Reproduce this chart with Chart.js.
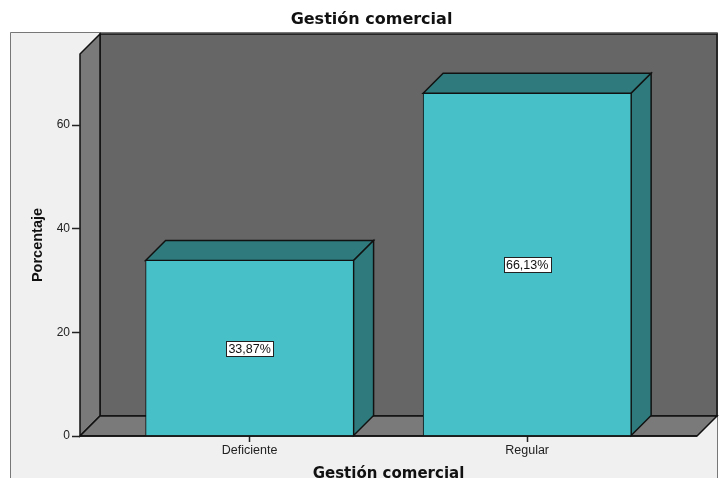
<!DOCTYPE html>
<html>
<head>
<meta charset="utf-8">
<title>Gestión comercial</title>
<script src="https://cdn.jsdelivr.net/npm/chart.js@4"></script>
<style>
  html, body { margin: 0; padding: 0; background: #fff; }
  #wrap { position: relative; width: 720px; height: 478px; }
</style>
</head>
<body>
<div id="wrap"><canvas id="myBarChart" width="720" height="478"></canvas></div>
<script>
const categories = ['Deficiente', 'Regular'];
const porcentajes = [33.87, 66.13];
const yTicks = [0, 20, 40, 60];
const titulo = 'Gestión comercial';
const ejeY = 'Porcentaje';

const depth = 20;
const wallColor = '#666666';
const sideColor = '#7a7a7a';
const barColor = '#47c1c7';
const barDark = '#2e7a7d';
const lineColor = '#111111';

function poly(ctx, pts, fill) {
    ctx.beginPath();
    pts.forEach(function (p, i) {
        if (i === 0) ctx.moveTo(p[0], p[1]);
        else ctx.lineTo(p[0], p[1]);
    });
    ctx.closePath();
    if (fill) {
        ctx.fillStyle = fill;
        ctx.fill();
    }
    ctx.strokeStyle = lineColor;
    ctx.lineWidth = 1.5;
    ctx.stroke();
}

// grey frame, chart title and the box walls behind the bars
const boxPlugin = {
    id: 'box3d',
    beforeDraw: function (chart) {
        const ctx = chart.ctx;
        const a = chart.chartArea;
        ctx.save();
        ctx.fillStyle = '#f0f0f0';
        ctx.fillRect(10, 32, 707, 446);
        ctx.strokeStyle = '#777777';
        ctx.lineWidth = 1;
        ctx.beginPath();
        ctx.moveTo(10.5, 478);
        ctx.lineTo(10.5, 32.5);
        ctx.lineTo(717.5, 32.5);
        ctx.lineTo(717.5, 478);
        ctx.stroke();

        ctx.fillStyle = '#111';
        ctx.font = 'bold 16px "DejaVu Sans"';
        ctx.textAlign = 'center';
        ctx.textBaseline = 'middle';
        ctx.fillText(titulo, 371.5, 20);

        poly(ctx, [[a.left + depth, a.top - depth], [a.right + depth, a.top - depth],
            [a.right + depth, a.bottom - depth], [a.left + depth, a.bottom - depth]], wallColor);
        poly(ctx, [[a.left, a.top], [a.left + depth, a.top - depth],
            [a.left + depth, a.bottom - depth], [a.left, a.bottom]], sideColor);
        poly(ctx, [[a.left, a.bottom], [a.left + depth, a.bottom - depth],
            [a.right + depth, a.bottom - depth], [a.right, a.bottom]], sideColor);
        ctx.restore();
    },
    // top and side faces of each bar
    beforeDatasetsDraw: function (chart) {
        const ctx = chart.ctx;
        ctx.save();
        chart.getDatasetMeta(0).data.forEach(function (bar) {
            const l = bar.x - bar.width / 2;
            const r = bar.x + bar.width / 2;
            poly(ctx, [[l, bar.y], [l + depth, bar.y - depth], [r + depth, bar.y - depth], [r, bar.y]], barDark);
            poly(ctx, [[r, bar.y], [r + depth, bar.y - depth], [r + depth, bar.base - depth], [r, bar.base]], barDark);
        });
        ctx.restore();
    },
    // percentage labels in the middle of each bar, and the floor line over the bar feet
    afterDatasetsDraw: function (chart) {
        const ctx = chart.ctx;
        const a = chart.chartArea;
        ctx.save();
        ctx.strokeStyle = lineColor;
        ctx.lineWidth = 1.5;
        ctx.beginPath();
        ctx.moveTo(a.left, a.bottom);
        ctx.lineTo(a.right, a.bottom);
        ctx.stroke();

        ctx.font = '12.5px "Liberation Sans"';
        ctx.textAlign = 'center';
        ctx.textBaseline = 'middle';
        chart.getDatasetMeta(0).data.forEach(function (bar, i) {
            const txt = porcentajes[i].toFixed(2).replace('.', ',') + '%';
            const w = Math.round(ctx.measureText(txt).width + 5);
            const cy = Math.round((bar.y + bar.base) / 2) + 1;
            const bx = Math.round(bar.x - w / 2) + 0.5;
            ctx.fillStyle = '#fff';
            ctx.fillRect(bx, cy - 7.5, w, 15);
            ctx.strokeStyle = '#222';
            ctx.lineWidth = 1;
            ctx.strokeRect(bx, cy - 7.5, w, 15);
            ctx.fillStyle = '#111';
            ctx.fillText(txt, bar.x, cy + 0.5);
        });
        ctx.restore();
    }
};

const ctx = document.getElementById('myBarChart').getContext('2d');
const myBarChart = new Chart(ctx, {
    type: 'bar',
    data: {
        datasets: [{
            data: porcentajes.map(function (v, i) { return { x: i, y: v }; }),
            backgroundColor: barColor,
            borderColor: lineColor,
            borderWidth: 1,
            barThickness: 208
        }]
    },
    options: {
        responsive: false,
        animation: false,
        layout: { padding: { top: 54, right: 23, left: 0, bottom: 0 } },
        plugins: {
            legend: { display: false },
            title: { display: false },
            tooltip: { enabled: false }
        },
        scales: {
            x: {
                type: 'linear',
                offset: false,
                min: -0.611,
                max: 1.612,
                afterBuildTicks: function (scale) {
                    scale.ticks = categories.map(function (c, i) { return { value: i }; });
                },
                afterFit: function (scale) { scale.height = 42; },
                grid: { offset: false, drawOnChartArea: false, drawTicks: true, tickLength: 6, tickWidth: 1.5, color: '#222' },
                border: { display: false },
                ticks: {
                    autoSkip: false,
                    maxRotation: 0,
                    padding: 1,
                    color: '#222',
                    font: { family: '"Liberation Sans"', size: 12.5 },
                    callback: function (value) { return categories[value]; }
                },
                title: {
                    display: true,
                    text: titulo,
                    color: '#111',
                    font: { family: '"DejaVu Sans"', size: 15, weight: 'bold' },
                    padding: { top: 0, bottom: -5 }
                }
            },
            y: {
                min: 0,
                max: 73.7,
                afterBuildTicks: function (scale) {
                    scale.ticks = yTicks.map(function (v) { return { value: v }; });
                },
                afterFit: function (scale) { scale.width = 80; },
                grid: { drawOnChartArea: false, drawTicks: true, tickLength: 8, tickWidth: 1.5, color: '#222' },
                border: { display: false },
                ticks: {
                    padding: 2,
                    color: '#222',
                    font: { family: '"Liberation Sans"', size: 12 }
                },
                title: {
                    display: true,
                    text: ejeY,
                    color: '#111',
                    font: { family: '"Liberation Sans"', size: 14.5, weight: 'bold' },
                    padding: { top: 29, bottom: 0 }
                }
            }
        }
    },
    plugins: [boxPlugin]
});
</script>
</body>
</html>
